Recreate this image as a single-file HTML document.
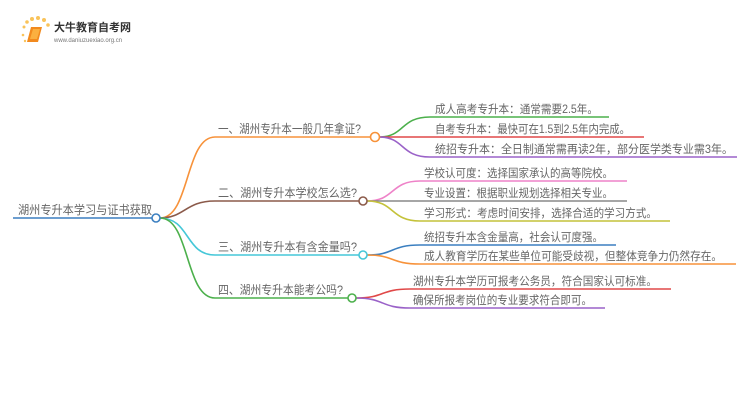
<!DOCTYPE html>
<html><head><meta charset="utf-8"><style>
html,body{margin:0;padding:0;background:#fff;width:750px;height:410px;overflow:hidden}
text{font-family:"Liberation Sans","Noto Sans CJK SC",sans-serif;fill:#666}
</style></head><body>
<svg width="750" height="410" viewBox="0 0 750 410" xmlns="http://www.w3.org/2000/svg">
<g>
<circle cx="24" cy="27" r="1.5" fill="#f9c35a"/><circle cx="27" cy="22" r="1.8" fill="#f9c35a"/>
<circle cx="32" cy="19" r="2" fill="#f9c35a"/><circle cx="38" cy="18" r="2" fill="#f9c35a"/>
<circle cx="44" cy="20" r="2" fill="#f9c35a"/><circle cx="48" cy="25" r="1.8" fill="#f9c35a"/>
<circle cx="23" cy="35" r="1.3" fill="#f9c35a"/><circle cx="25" cy="41" r="1.2" fill="#f9c35a"/>
<path d="M31 27 L42 27 L38 42 L27 42 Z" fill="#f28a1e"/>
<path d="M33 29 L40 29 L37 39 L30 39 Z" fill="#fbb040"/>
<text x="54" y="31" font-size="11" style="fill:#333;font-weight:bold">大牛教育自考网</text>
<text x="54" y="42" font-size="6" style="fill:#777">www.daniuzuexiao.org.cn</text>
</g>
<g fill="none" stroke-width="1.6">
<path d="M13 218 H152" stroke="#3b7fc0"/>
<path d="M160 218 C190 218,185 137,215 137 H371" stroke="#f7923a"/>
<path d="M160 218 C185 218,185 201,215 201 H359" stroke="#8b5a4a"/>
<path d="M160 218 C190 218,185 255,215 255 H359" stroke="#45c7d8"/>
<path d="M160 218 C190 218,185 298,215 298 H348" stroke="#4cb04c"/>
<path d="M379 137 C405 137,400 117,430 117 H609" stroke="#4cb04c"/>
<path d="M379 137 H644" stroke="#e04848"/>
<path d="M379 137 C405 137,400 157,430 157 H737" stroke="#9a62c8"/>
<path d="M367 201 C395 201,390 181,420 181 H627" stroke="#ee82c8"/>
<path d="M367 201 H627" stroke="#888"/>
<path d="M367 201 C395 201,390 221,420 221 H670" stroke="#c4c23a"/>
<path d="M367 255 C395 255,390 245,420 245 H616" stroke="#3b7fc0"/>
<path d="M367 255 C395 255,390 264,420 264 H736" stroke="#f7923a"/>
<path d="M356 298 C385 298,380 289,410 289 H671" stroke="#e04848"/>
<path d="M356 298 C385 298,380 308,410 308 H605" stroke="#9a62c8"/>
</g>
<g fill="#fff" stroke-width="1.6">
<circle cx="156" cy="218" r="4" stroke="#3b7fc0"/>
<circle cx="375" cy="137" r="4.5" stroke="#f7923a"/>
<circle cx="363" cy="201" r="4" stroke="#8b5a4a"/>
<circle cx="363" cy="255" r="4" stroke="#45c7d8"/>
<circle cx="352" cy="298" r="4" stroke="#4cb04c"/>
</g>
<g font-size="12" lengthAdjust="spacingAndGlyphs">
<text x="18" y="214" textLength="134" lengthAdjust="spacingAndGlyphs">湖州专升本学习与证书获取</text>
<text x="218" y="133" textLength="143" lengthAdjust="spacingAndGlyphs">一、湖州专升本一般几年拿证?</text>
<text x="218" y="197" textLength="139" lengthAdjust="spacingAndGlyphs">二、湖州专升本学校怎么选?</text>
<text x="218" y="251" textLength="139" lengthAdjust="spacingAndGlyphs">三、湖州专升本有含金量吗?</text>
<text x="218" y="294" textLength="125" lengthAdjust="spacingAndGlyphs">四、湖州专升本能考公吗?</text>
</g>
<g font-size="11.5">
<text x="435" y="113" textLength="163" lengthAdjust="spacingAndGlyphs">成人高考专升本：通常需要2.5年。</text>
<text x="435" y="133" textLength="195" lengthAdjust="spacingAndGlyphs">自考专升本：最快可在1.5到2.5年内完成。</text>
<text x="435" y="153" textLength="298" lengthAdjust="spacingAndGlyphs">统招专升本：全日制通常需再读2年，部分医学类专业需3年。</text>
<text x="424" y="177" textLength="189" lengthAdjust="spacingAndGlyphs">学校认可度：选择国家承认的高等院校。</text>
<text x="424" y="197" textLength="189" lengthAdjust="spacingAndGlyphs">专业设置：根据职业规划选择相关专业。</text>
<text x="424" y="217" textLength="233" lengthAdjust="spacingAndGlyphs">学习形式：考虑时间安排，选择合适的学习方式。</text>
<text x="424" y="241" textLength="179" lengthAdjust="spacingAndGlyphs">统招专升本含金量高，社会认可度强。</text>
<text x="424" y="260" textLength="298" lengthAdjust="spacingAndGlyphs">成人教育学历在某些单位可能受歧视，但整体竞争力仍然存在。</text>
<text x="413" y="285" textLength="244" lengthAdjust="spacingAndGlyphs">湖州专升本学历可报考公务员，符合国家认可标准。</text>
<text x="413" y="304" textLength="179" lengthAdjust="spacingAndGlyphs">确保所报考岗位的专业要求符合即可。</text>
</g>
</svg>
</body></html>
